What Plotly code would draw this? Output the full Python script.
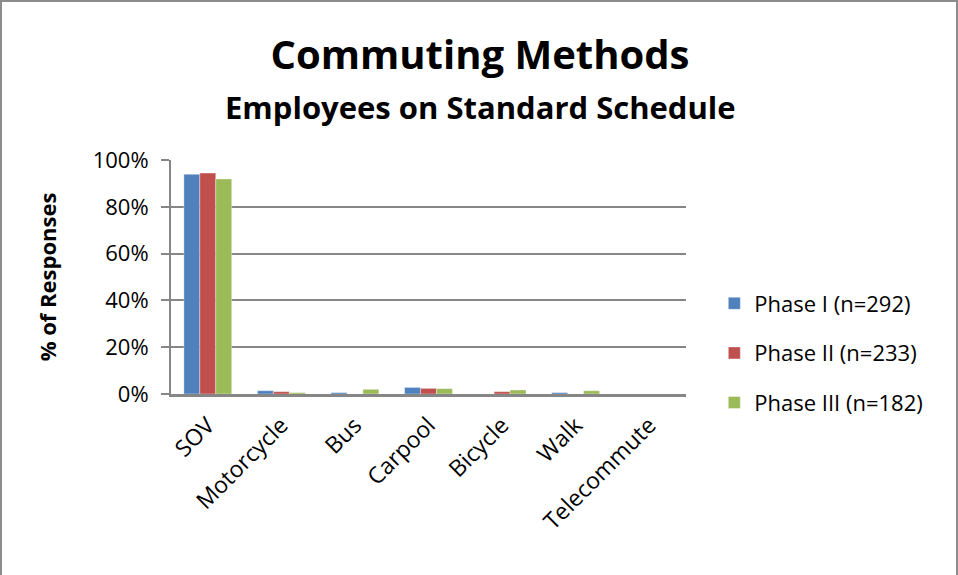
import plotly.graph_objects as go

# ---------- data ----------
categories = ["SOV", "Motorcycle", "Bus", "Carpool", "Bicycle", "Walk", "Telecommute"]

phase_names = ["Phase I (n=292)", "Phase II (n=233)", "Phase III (n=182)"]
phase1 = [93.9, 1.4, 0.6, 2.8, 0.0, 0.6, 0.0]
phase2 = [94.4, 1.0, 0.0, 2.4, 1.0, 0.0, 0.0]
phase3 = [91.9, 0.6, 2.0, 2.3, 1.7, 1.4, 0.0]

colors = ["#4F81BD", "#C0504D", "#9BBB59"]
y_ticks = [0, 20, 40, 60, 80, 100]

FONT = "Open Sans"
GRID = "#868686"

fig = go.Figure()
for name, vals, col in zip(phase_names, [phase1, phase2, phase3], colors):
    fig.add_trace(go.Bar(
        x=categories,
        y=[v / 100 for v in vals],
        name=name,
        legendgroup=name,
        marker=dict(color=col, line=dict(color="rgba(255,255,255,0.6)", width=0.6)),
    ))

fig.update_layout(
    width=958, height=575,
    margin=dict(l=171, r=272, t=160, b=181),
    paper_bgcolor="white", plot_bgcolor="white",
    font=dict(family=FONT, color="black", size=21),
    barmode="group", bargap=0.35, bargroupgap=0,
    title=dict(
        text="<b>Commuting Methods</b>",
        font=dict(size=40, family=FONT),
        x=0.501, xanchor="center", xref="container",
        y=1 - 55 / 575, yanchor="middle", yref="container",
    ),
    showlegend=True,
    legend=dict(
        x=1.055, xanchor="left", y=(394 - 353) / 234, yanchor="middle",
        font=dict(size=22), tracegroupgap=18,
        itemwidth=30, bgcolor="rgba(0,0,0,0)",
    ),
)

fig.add_annotation(
    text="<b>Employees on Standard Schedule</b>",
    xref="paper", yref="paper", x=0.6, y=(394 - 107) / 234,
    xanchor="center", yanchor="middle", showarrow=False,
    font=dict(size=31, family=FONT),
)

fig.update_yaxes(
    range=[0, 1], tickvals=[t / 100 for t in y_ticks],
    ticktext=[f"{t}%" for t in y_ticks],
    showgrid=True, gridcolor=GRID, gridwidth=1.5,
    showline=True, linecolor=GRID, linewidth=2,
    ticks="outside", ticklen=8, tickcolor=GRID, tickwidth=1.5,
    ticklabelstandoff=8,
    zeroline=False,
    title=dict(text="<b>% of Responses</b>", font=dict(size=22), standoff=30),
    tickfont=dict(size=22),
)
fig.update_xaxes(
    showline=True, linecolor=GRID, linewidth=2.5,
    ticks="", tickangle=-45, tickfont=dict(size=23),
    ticklabelstandoff=6,
)

# thin grey chart border (bottom edge falls just outside the window, as in the reference)
fig.add_shape(
    type="rect", xref="paper", yref="paper",
    x0=(1 - 171) / 515, x1=(957 - 171) / 515,
    y0=(394 - 578) / 234, y1=(394 - 1) / 234,
    line=dict(color="#8C8C8C", width=2), fillcolor="rgba(0,0,0,0)", layer="below",
)

# drop the default page margin so the figure sits at the window's top-left corner
fig.write_html(
    "out.html",
    config={"displayModeBar": False},
    post_script="document.body.style.margin='0px';",
)
